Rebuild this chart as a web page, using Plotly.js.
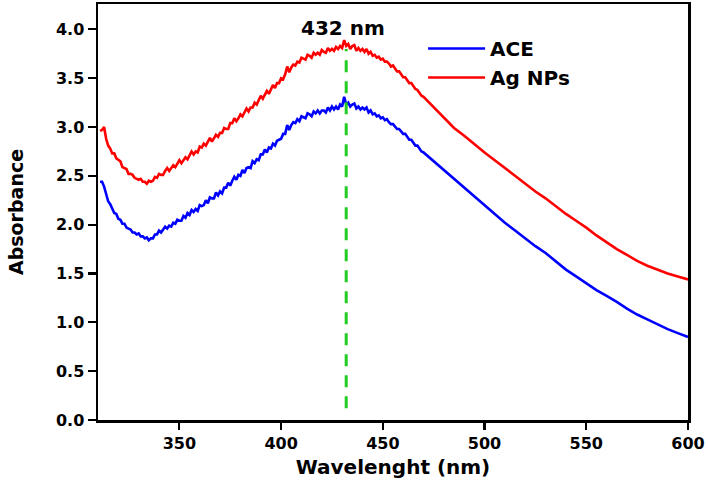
<!DOCTYPE html>
<html>
<head>
<meta charset="utf-8">
<script src="https://cdn.plot.ly/plotly-3.0.1.min.js"></script>
<style>html,body{margin:0;padding:0;background:#fff;}#chart{width:708px;height:489px;}</style>
</head>
<body>
<div id="chart"></div>
<script>
// Wavelength grid (nm): noisy region 311-470 in 1-nm steps, then smooth tail in 5-nm steps
const wavelengthNoisy = [
  311,312,313,314,315,316,317,318,319,320,321,322,323,324,325,326,327,328,329,330,
  331,332,333,334,335,336,337,338,339,340,341,342,343,344,345,346,347,348,349,350,
  351,352,353,354,355,356,357,358,359,360,361,362,363,364,365,366,367,368,369,370,
  371,372,373,374,375,376,377,378,379,380,381,382,383,384,385,386,387,388,389,390,
  391,392,393,394,395,396,397,398,399,400,401,402,403,404,405,406,407,408,409,410,
  411,412,413,414,415,416,417,418,419,420,421,422,423,424,425,426,427,428,429,430,
  431,432,433,434,435,436,437,438,439,440,441,442,443,444,445,446,447,448,449,450,
  451,452,453,454,455,456,457,458,459,460,461,462,463,464,465,466,467,468,469,470
];
const wavelengthTail = [
  475,480,485,490,495,500,505,510,515,520,525,530,535,540,545,550,555,560,565,570,
  575,580,585,590,595,600
];
const agNPsNoisy = [
  2.96,2.97,3.00,2.88,2.81,2.78,2.73,2.73,2.68,2.66,
  2.65,2.59,2.58,2.57,2.52,2.52,2.51,2.48,2.47,2.46,
  2.47,2.44,2.44,2.42,2.45,2.44,2.45,2.49,2.48,2.52,
  2.51,2.51,2.55,2.58,2.55,2.58,2.61,2.59,2.62,2.66,
  2.63,2.66,2.69,2.67,2.71,2.75,2.72,2.75,2.74,2.80,
  2.79,2.83,2.81,2.85,2.89,2.85,2.89,2.92,2.90,2.94,
  2.94,2.99,2.98,2.98,3.04,3.04,3.09,3.06,3.09,3.13,
  3.11,3.15,3.19,3.16,3.20,3.20,3.25,3.23,3.28,3.32,
  3.29,3.33,3.37,3.34,3.39,3.43,3.40,3.45,3.45,3.50,
  3.49,3.54,3.62,3.56,3.61,3.64,3.63,3.67,3.66,3.71,
  3.70,3.69,3.74,3.73,3.71,3.76,3.74,3.76,3.74,3.79,
  3.77,3.76,3.81,3.78,3.80,3.78,3.82,3.80,3.83,3.81,
  3.89,3.83,3.85,3.80,3.83,3.84,3.78,3.81,3.78,3.80,
  3.77,3.80,3.75,3.77,3.73,3.74,3.71,3.72,3.69,3.70,
  3.67,3.67,3.65,3.62,3.63,3.60,3.57,3.57,3.54,3.51,
  3.51,3.48,3.45,3.45,3.42,3.39,3.38,3.35,3.32,3.31
];
const agNPsTail = [
  3.20,3.10,2.99,2.91,2.82,2.74,2.66,2.58,2.50,2.42,2.34,2.27,2.19,2.11,2.04,1.97,1.89,1.82,1.75,1.69,
  1.63,1.58,1.54,1.50,1.47,1.44
];
const aceNoisy = [
  2.44,2.44,2.39,2.32,2.24,2.21,2.16,2.12,2.11,2.06,
  2.05,2.01,2.01,1.97,1.96,1.95,1.92,1.92,1.90,1.91,
  1.88,1.88,1.86,1.87,1.84,1.86,1.86,1.90,1.90,1.94,
  1.92,1.95,1.98,1.96,1.99,1.98,2.02,2.01,2.05,2.04,
  2.04,2.09,2.07,2.12,2.10,2.15,2.13,2.16,2.14,2.20,
  2.19,2.20,2.25,2.22,2.28,2.27,2.27,2.33,2.30,2.34,
  2.32,2.38,2.38,2.43,2.40,2.45,2.49,2.46,2.51,2.50,
  2.56,2.53,2.58,2.59,2.58,2.65,2.63,2.67,2.66,2.72,
  2.72,2.77,2.74,2.79,2.78,2.83,2.81,2.86,2.87,2.88,
  2.93,2.93,3.02,2.97,3.02,3.05,3.04,3.08,3.06,3.11,
  3.10,3.09,3.14,3.13,3.11,3.16,3.14,3.17,3.14,3.17,
  3.17,3.15,3.20,3.17,3.21,3.18,3.21,3.18,3.23,3.21,
  3.31,3.23,3.25,3.21,3.23,3.24,3.19,3.21,3.18,3.20,
  3.18,3.20,3.15,3.17,3.13,3.14,3.11,3.12,3.09,3.10,
  3.07,3.08,3.05,3.03,3.03,3.01,2.98,2.98,2.96,2.93,
  2.93,2.90,2.87,2.87,2.84,2.81,2.81,2.78,2.75,2.74
];
const aceTail = [
  2.65,2.57,2.48,2.38,2.29,2.20,2.11,2.02,1.94,1.86,1.78,1.71,1.62,1.54,1.47,1.40,1.33,1.27,1.21,1.14,
  1.08,1.03,0.98,0.93,0.89,0.85
];
const peakWavelength = 432;
const peakLineY = [0.12, 3.80];
const peakLabel = "432 nm";
const seriesNames = ["ACE", "Ag NPs"];
const xTicks = [350, 400, 450, 500, 550, 600];
const yTicks = [0.0, 0.5, 1.0, 1.5, 2.0, 2.5, 3.0, 3.5, 4.0];

const wavelength = wavelengthNoisy.concat(wavelengthTail);
const agNPs = agNPsNoisy.concat(agNPsTail);
const ace = aceNoisy.concat(aceTail);

const FONT = "DejaVu Sans, Arial, sans-serif";

const traces = [
  {x: wavelength, y: ace, name: seriesNames[0], type: "scatter", mode: "lines",
   line: {color: "#0000ff", width: 2.6}},
  {x: wavelength, y: agNPs, name: seriesNames[1], type: "scatter", mode: "lines",
   line: {color: "#ff0000", width: 2.6}},
  {x: [peakWavelength, peakWavelength], y: peakLineY, type: "scatter", mode: "lines",
   showlegend: false, hoverinfo: "skip",
   line: {color: "#22cc22", width: 3, dash: "12px,9px"}}
];

const axisCommon = {
  showline: true, linecolor: "#000", linewidth: 2.5, mirror: true,
  ticks: "outside", tickcolor: "#000", tickwidth: 2.2,
  showgrid: false, zeroline: false,
  tickfont: {family: FONT, size: 16, color: "#000", weight: "bold"}
};

const layout = {
  width: 708, height: 489,
  paper_bgcolor: "#fff", plot_bgcolor: "#fff",
  margin: {l: 98, r: 20, t: 4, b: 69},
  showlegend: true,
  legend: {x: 0.551, y: 0.94, xanchor: "left", yanchor: "top",
           bgcolor: "rgba(0,0,0,0)", itemwidth: 57, tracegroupgap: 0,
           font: {family: FONT, size: 20, color: "#000", weight: "bold"}},
  xaxis: Object.assign({}, axisCommon, {
    range: [310, 600], tickvals: xTicks, ticktext: xTicks.map(String), ticklen: 7,
    title: {text: "Wavelenght (nm)", standoff: 9,
            font: {family: FONT, size: 20, color: "#000", weight: "bold"}}
  }),
  yaxis: Object.assign({}, axisCommon, {
    range: [0, 4.26], tickvals: yTicks, ticktext: yTicks.map(v => v.toFixed(1)), ticklen: 8,
    title: {text: "Absorbance", standoff: 28,
            font: {family: FONT, size: 19, color: "#000", weight: "bold"}}
  }),
  annotations: [
    {x: peakWavelength, y: peakLineY[1], xref: "x", yref: "y", text: peakLabel,
     showarrow: false, yanchor: "bottom", yshift: 7, xshift: -3,
     font: {family: FONT, size: 20, color: "#000", weight: "bold"}}
  ]
};

Plotly.newPlot("chart", traces, layout, {displayModeBar: false, staticPlot: true});
</script>
</body>
</html>
